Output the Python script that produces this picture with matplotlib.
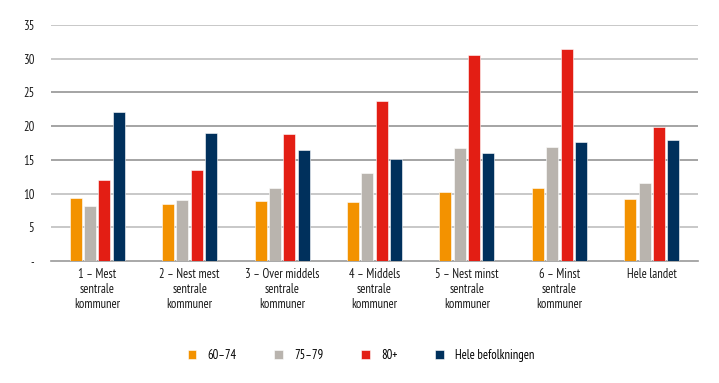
import numpy as np
import matplotlib.pyplot as plt

plt.rcParams['font.family'] = ['PT Sans Narrow', 'DejaVu Sans']

categories = ['1 – Mest\nsentrale\nkommuner', '2 – Nest mest\nsentrale\nkommuner',
              '3 – Over middels\nsentrale\nkommuner', '4 – Middels\nsentrale\nkommuner',
              '5 – Nest minst\nsentrale\nkommuner', '6 – Minst\nsentrale\nkommuner',
              'Hele landet']
series_names = ['60–74', '75–79', '80+', 'Hele befolkningen']
v_60_74 = [9.4, 8.5, 8.9, 8.8, 10.2, 10.8, 9.2]
v_75_79 = [8.1, 9.1, 10.8, 13.0, 16.7, 16.9, 11.5]
v_80 = [12.0, 13.5, 18.8, 23.7, 30.5, 31.4, 19.9]
v_hele = [22.1, 19.0, 16.4, 15.1, 16.0, 17.6, 17.9]
values = [v_60_74, v_75_79, v_80, v_hele]
colors = ['#F39200', '#B9B4AE', '#E31E14', '#00305C']

fig = plt.figure(figsize=(7.19, 3.83), dpi=100)
ax = fig.add_axes([0.0709, 0.3185, 0.8999, 0.6162])

x = np.arange(len(categories))
pitch = 0.155
for i, (vals, c, name) in enumerate(zip(values, colors, series_names)):
    ax.bar(x + (i - 1.5) * pitch, vals, width=0.13, color=c, label=name,
           edgecolor='white', linewidth=0.4, zorder=3)

ax.set_xlim(-0.5, len(categories) - 0.5)
ax.set_ylim(0, 35)
ax.set_yticks(range(0, 36, 5))
ax.set_yticklabels(['-'] + [str(v) for v in range(5, 36, 5)])
ax.set_xticks(x)
ax.set_xticklabels(categories, fontsize=9, linespacing=1.2)
ax.tick_params(axis='both', length=0, labelsize=9, colors='#1a1a1a')
ax.tick_params(axis='y', pad=12)
ax.tick_params(axis='x', pad=5)
# gridlines: lighter at the outer levels, a bit darker in the middle like the original
for yv in range(5, 36, 5):
    gc = '#9d9d9d' if yv in (15, 20, 25) else '#c4c4c4'
    ax.axhline(yv, color=gc, linewidth=1.3, zorder=0)
for s in ['top', 'right', 'left']:
    ax.spines[s].set_visible(False)
ax.spines['bottom'].set_color('#9a9a9a')
ax.spines['bottom'].set_linewidth(1.2)

ax.legend(loc='center', bbox_to_anchor=(0.479, -0.4), ncol=4, frameon=False,
          fontsize=9, handlelength=0.7, handleheight=0.7, columnspacing=3.0,
          handletextpad=0.9)

fig.savefig('out.png', dpi=100)
